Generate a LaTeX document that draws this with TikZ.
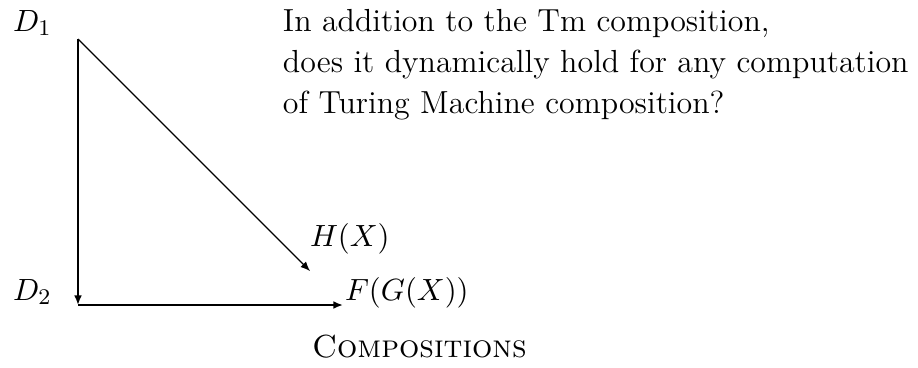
\documentclass[tikz,border=0pt]{standalone}
\usetikzlibrary{arrows.meta}
\begin{document}
\begin{tikzpicture}[x=0.357pt,y=-0.357pt,
  lbl/.style={anchor=base west,inner sep=0pt,outer sep=0pt,font=\fontsize{11.4}{13}\selectfont},
  axis/.style={line width=0.7pt,-{Latex[length=3.4pt,width=2.8pt]}},
  diag/.style={line width=0.4pt,-{Latex[length=3.4pt,width=2.8pt]}}]
\useasboundingbox (0,0) rectangle (918,367);
\node[lbl] (d1) at (13,31) {$D_1$};
\node[lbl] (d2) at (13,300) {$D_2$};
\node[lbl] (t1) at (283,31) {In addition to the Tm composition,};
\node[lbl] (t2) at (283,72) {does it dynamically hold for any computation};
\node[lbl] (t3) at (283,113) {of Turing Machine composition?};
\node[lbl] (h) at (310,246) {$H(X)$};
\node[lbl] (f) at (345,300) {$F(G(X))$};
\node[lbl] (c) at (312,357) {\textsc{Compositions}};
\coordinate (O) at (78,39);
\coordinate (B) at (78,305);
\coordinate (R) at (343,305);
\coordinate (E) at (310,271);
\draw[axis] (O) -- (B);
\draw[axis] (B) -- (R);
\draw[diag] (O) -- (E);
\end{tikzpicture}
\end{document}
